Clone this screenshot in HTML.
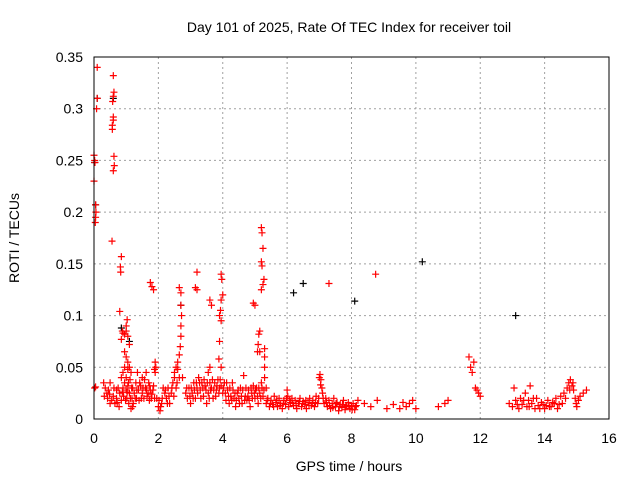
<!DOCTYPE html>
<html><head><meta charset="utf-8"><style>
body{margin:0;background:#fff}
svg{display:block;font-family:"Liberation Sans",sans-serif}
</style></head><body>
<svg id="chart" width="640" height="480">
<text x="349" y="32" text-anchor="middle" font-size="14">Day 101 of 2025, Rate Of TEC Index for receiver toil</text>
<text x="349" y="471" text-anchor="middle" font-size="14">GPS time / hours</text>
<text transform="translate(19,238) rotate(-90)" text-anchor="middle" font-size="14">ROTI / TECUs</text>
<g id="grid"></g><g id="ticks"></g><g id="marks"></g>
<rect x="94" y="57" width="515" height="362" fill="none" stroke="#000" stroke-width="1"/>
</svg>
<script>
const xTicks=[0,2,4,6,8,10,12,14,16];
const yTicks=[0,0.05,0.1,0.15,0.2,0.25,0.3,0.35];
const yTickLabels=["0","0.05","0.1","0.15","0.2","0.25","0.3","0.35"];
const blackPoints=[[0.1,0.31],[0.6,0.31],[0.85,0.088],[1.1,0.075],[2.7,0.11],[6.2,0.122],[6.5,0.131],[8.1,0.114],[10.2,0.152],[13.1,0.1],[0.02,0.248],[0.05,0.207]];
const redPoints=[[0.02,.03],[0.05,.031],[0.0,.255],[0.02,.25],[0.03,.248],[0.0,.23],[0.05,.207],[0.06,.2],[0.05,.195],[0.04,.19],[0.1,.34],[0.1,.31],[0.08,.3],
[0.6,.332],[0.62,.316],[0.6,.312],[0.58,.307],[0.6,.292],[0.6,.289],[0.57,.284],[0.57,.28],[0.62,.254],[0.63,.245],[0.6,.24],[0.56,.172],[0.85,.157],[0.82,.147],[0.83,.142],[0.8,.104],
[0.88,.085],[0.9,.083],[0.95,.082],[1.0,.085],[1.05,.08],[0.85,.077],[1.0,.09],[1.03,.096],[1.1,.072],[0.95,.065],[1.0,.06],[1.05,.055],[0.95,.05],[1.05,.048],[1.1,.05],[1.15,.045],
[1.75,.132],[1.8,.128],[1.85,.125],
[2.65,.127],[2.7,.122],[2.7,.11],[2.72,.1],[2.7,.09],[2.7,.08],[2.68,.07],[2.65,.062],[2.6,.055],[2.55,.05],[2.5,.045],
[3.2,.142],[3.15,.127],[3.2,.125],[3.6,.115],[3.65,.11],[3.6,.05],[3.55,.045],
[3.95,.14],[3.97,.135],[4.0,.12],[3.95,.115],[3.93,.105],[3.9,.1],[3.95,.095],[3.9,.075],[3.88,.058],[3.95,.05],
[4.95,.112],[5.0,.11],[5.2,.185],[5.22,.18],[5.25,.165],[5.2,.152],[5.22,.148],[5.28,.135],[5.25,.13],[5.2,.125],[5.15,.085],[5.12,.082],[5.1,.072],[5.08,.065],[5.15,.065],[5.3,.068],[5.3,.06],[5.3,.05],[5.3,.04],[5.35,.03],
[7.3,.131],[8.75,.14],
[0.3,.035],[0.35,.03],[0.4,.025],[0.42,.02],[0.45,.028],[0.5,.015],[0.55,.018],[0.5,.035],[0.6,.022],[0.65,.015],[0.7,.02],[0.7,.028],[0.75,.03],[0.78,.012],[0.8,.025],[0.85,.018],[0.85,.04],[0.9,.03],[0.92,.022],[0.95,.035],[1.0,.028],[1.0,.04],[1.02,.02],[1.05,.032],[1.08,.015],[1.1,.025],[1.12,.038],[1.15,.01],[1.18,.02],[1.2,.03],[1.22,.015],[1.25,.025],[1.3,.035],[1.32,.02],[1.35,.045],[1.38,.028],[1.4,.018],[1.45,.032],[1.5,.025],[1.5,.04],[1.55,.02],[1.6,.03],[1.62,.045],[1.65,.022],[1.7,.035],[1.72,.018],[1.75,.028],[1.8,.024],[1.85,.032],[1.88,.048],[1.9,.055],[1.92,.05],[1.95,.02],[2.0,.012],[2.02,.018],[2.05,.008],[2.1,.015],[2.15,.03],[2.2,.025],[2.25,.02],[2.3,.03],[2.35,.015],[2.4,.025],[2.45,.035],[2.5,.04],[2.55,.03],[2.6,.048],[2.75,.04],[2.85,.025],[2.9,.02],[2.95,.03],[3.0,.015],[3.05,.025],[3.1,.035],[3.15,.02],[3.2,.03],[3.25,.04],[3.3,.028],[3.35,.035],[3.4,.022],[3.45,.032],[3.5,.015],[3.55,.025],[3.6,.035],[3.65,.03],[3.7,.02],[3.75,.035],[3.8,.028],[3.85,.038],[3.9,.03],[3.95,.032],[4.0,.025],[4.05,.035],[4.1,.018],[4.15,.028],[4.2,.015],[4.25,.022],[4.3,.035],[4.35,.02],[4.4,.012],[4.45,.025],[4.5,.02],[4.55,.03],[4.6,.015],[4.65,.042],[4.7,.022],[4.75,.018],[4.8,.028],[4.85,.012],[4.9,.025],[4.95,.032],[5.0,.02],[5.05,.03],[5.1,.015],[5.15,.025],[5.2,.035],[5.25,.022],
[0.32,.022],[0.48,.024],[0.62,.03],[0.72,.016],[0.88,.026],[0.9,.045],[0.98,.018],[1.03,.026],[1.07,.035],[1.13,.02],[1.17,.03],[1.2,.012],[1.28,.02],[1.33,.028],[1.42,.035],[1.47,.02],[1.52,.03],[1.57,.038],[1.63,.028],[1.68,.025],[1.73,.032],[1.78,.02],[1.83,.028],[1.88,.02],[1.9,.045],[2.07,.012],[2.12,.02],[2.22,.028],[2.28,.015],[2.33,.022],[2.42,.03],[2.48,.022],[2.58,.035],[2.65,.04],[2.88,.03],[2.98,.022],[3.02,.03],[3.08,.02],[3.12,.028],[3.18,.035],[3.22,.025],[3.28,.035],[3.32,.02],[3.38,.03],[3.42,.038],[3.48,.028],[3.52,.035],[3.58,.02],[3.62,.028],[3.68,.038],[3.72,.028],[3.78,.022],[3.82,.032],[3.88,.025],[3.92,.038],[4.02,.03],[4.08,.025],[4.12,.035],[4.18,.022],[4.22,.03],[4.28,.018],[4.32,.028],[4.38,.025],[4.42,.018],[4.48,.028],[4.52,.015],[4.58,.022],[4.62,.028],[4.68,.018],[4.72,.03],[4.78,.022],[4.82,.018],[4.88,.03],[4.92,.02],[4.98,.025],[5.02,.028],[5.08,.022],[5.12,.03],[5.18,.02],[5.22,.03],[5.28,.028],
[5.35,.015],[5.4,.02],[5.45,.012],[5.5,.018],[5.55,.014],[5.6,.022],[5.65,.016],[5.7,.012],[5.75,.02],[5.8,.015],[5.85,.01],[5.9,.018],[5.95,.014],[6.0,.028],[6.02,.022],[6.05,.012],[6.1,.016],[6.15,.02],[6.2,.013],[6.25,.018],[6.3,.01],[6.35,.015],[6.4,.02],[6.45,.012],[6.5,.017],[6.55,.014],[6.6,.01],[6.65,.016],[6.7,.02],[6.75,.013],[6.8,.018],[6.85,.012],[6.9,.022],[6.95,.015],[7.0,.04],[7.02,.043],[7.05,.038],[7.08,.03],[7.1,.025],[7.15,.015],[7.2,.02],[7.25,.012],[7.3,.018],[7.35,.01],[7.4,.015],[7.45,.02],[7.5,.012],[7.55,.016],[7.6,.008],[7.65,.014],[7.7,.011],[7.75,.018],[7.8,.009],[7.85,.013],[7.9,.016],[7.95,.01],[8.0,.012],[8.05,.015],[8.1,.009],[8.15,.013],[8.2,.018],
[5.38,.018],[5.48,.015],[5.58,.012],[5.68,.018],[5.78,.013],[5.88,.015],[5.98,.02],[6.08,.018],[6.18,.015],[6.28,.013],[6.38,.017],[6.48,.015],[6.58,.018],[6.68,.013],[6.78,.015],[6.88,.016],[6.98,.02],[7.04,.033],[7.12,.02],[7.22,.016],[7.32,.013],[7.42,.011],[7.52,.015],[7.62,.012],[7.72,.014],[7.82,.012],[7.92,.013],[8.02,.009],[8.12,.012],
[8.4,.015],[8.6,.012],[8.8,.018],[9.1,.01],[9.3,.014],[9.5,.01],[9.6,.016],[9.7,.012],[9.8,.015],[9.9,.018],[10.0,.01],[10.7,.012],[10.9,.015],[11.0,.018],[11.65,.06],[11.7,.05],[11.75,.045],[11.8,.055],[11.85,.03],[11.9,.028],[11.95,.025],[12.0,.022],
[12.9,.015],[13.0,.012],[13.05,.03],[13.1,.018],[13.2,.01],[13.25,.02],[13.3,.014],[13.4,.025],[13.45,.012],[13.5,.018],[13.55,.032],[13.6,.015],[13.7,.01],[13.75,.02],[13.8,.013],[13.9,.016],[14.0,.01],[14.1,.018],[14.2,.012],[14.3,.015],[14.35,.02],[14.4,.01],[14.5,.022],[14.55,.015],[14.6,.025],[14.7,.03],[14.75,.035],[14.8,.038],[14.85,.032],[14.9,.028],[14.95,.02],[15.0,.012],[15.05,.018],[15.1,.022],[15.2,.025],[15.3,.028],
[13.15,.014],[13.35,.018],[13.52,.012],[13.65,.02],[13.85,.01],[13.95,.014],[14.05,.013],[14.15,.012],[14.25,.016],[14.45,.014],[14.65,.02],[14.78,.028],[14.88,.035],[14.98,.015]];

const X0=94,X1=609,Y0=419,Y1=57;
const sx=v=>X0+(v-0)/(16-0)*(X1-X0);
const sy=v=>Y0-(v-0)/(0.35-0)*(Y0-Y1);
const NS="http://www.w3.org/2000/svg";
function mk(tag,attrs,parent){const e=document.createElementNS(NS,tag);for(const k in attrs)e.setAttribute(k,attrs[k]);parent.appendChild(e);return e;}
const grid=document.getElementById('grid'),ticks=document.getElementById('ticks'),marks=document.getElementById('marks');
xTicks.forEach(t=>{
  const x=sx(t);
  if(t>0&&t<16){const g=mk('line',{x1:x,x2:x,y1:Y1,y2:Y0,stroke:'#a0a0a0','stroke-dasharray':'2,3'},grid);
  
  }
  const l=mk('text',{x:x,y:Y0+24,'text-anchor':'middle','font-size':14},ticks);
  l.textContent=t;
  
  
});
yTicks.forEach((t,i)=>{
  const y=sy(t);
  if(t>0&&t<0.35){const g=mk('line',{x1:X0,x2:X1,y1:y,y2:y,stroke:'#a0a0a0','stroke-dasharray':'2,3'},grid);
  
  }
  const l=mk('text',{x:X0-11,y:y+5,'text-anchor':'end','font-size':14},ticks);
  l.textContent=yTickLabels[i];
  
  
});
function plus(p,color,name){
  const x=sx(p[0]),y=sy(p[1]);
  const e=mk('path',{d:`M${x-3.5},${y}h7M${x},${y-3.5}v7`,stroke:color,'stroke-width':1.2,fill:'none'},marks);
  
  
}
blackPoints.forEach(p=>plus(p,'#000','black-point'));
redPoints.forEach(p=>plus(p,'#ff0000','roti-point'));
</script>
</body></html>
